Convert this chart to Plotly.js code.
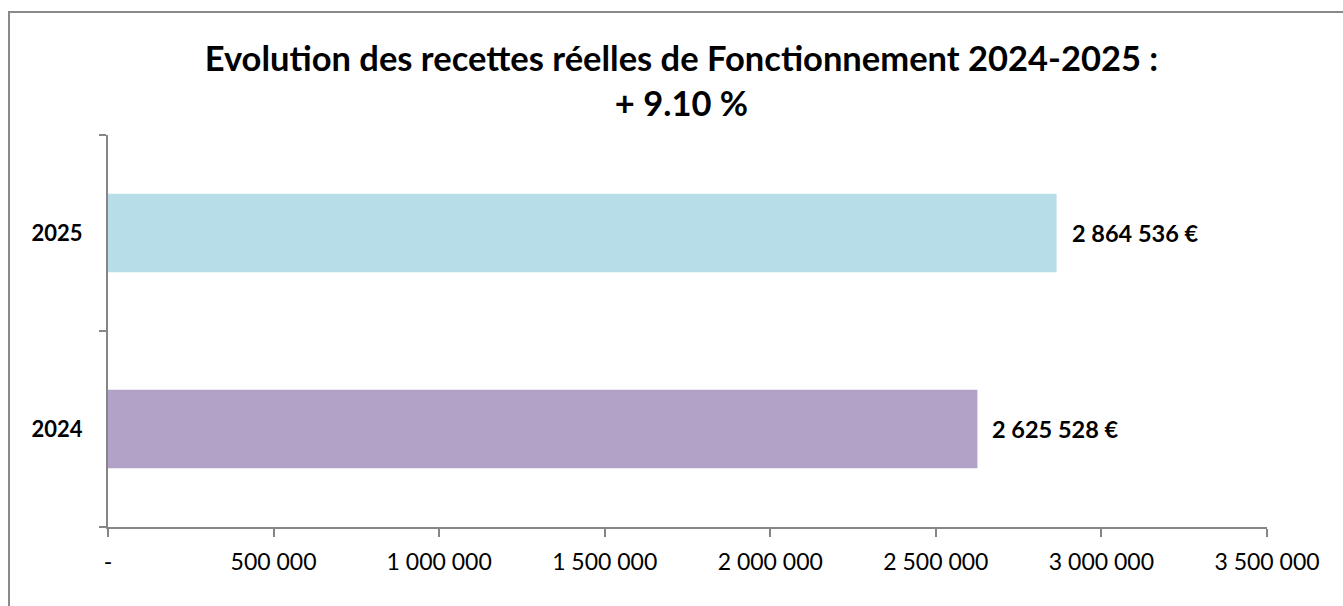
<!DOCTYPE html>
<html>
<head>
<meta charset="utf-8">
<script src="https://cdn.plot.ly/plotly-3.0.1.min.js"></script>
<style>
  html, body { margin: 0; padding: 0; background: #ffffff; }
  #chart { width: 1343px; height: 606px; }
</style>
</head>
<body>
<div id="chart"></div>
<script>
// ---- Data ----
const years = ["2024", "2025"];
const recettes = [2625528, 2864536];
const labels = ["2 625 528 €", "2 864 536 €"];
const barColors = ["#B3A2C7", "#B7DDE8"];
const xTickVals = [0, 500000, 1000000, 1500000, 2000000, 2500000, 3000000, 3500000];
const xTickText = ["-", "500 000", "1 000 000", "1 500 000", "2 000 000", "2 500 000", "3 000 000", "3 500 000"];
const titleLine1 = "Evolution des recettes réelles de Fonctionnement 2024-2025 :";
const titleLine2 = "+ 9.10 %";

const FONT = "Lato, 'Open Sans', sans-serif";
const axisColor = "#868686";

const trace = {
  type: "bar",
  orientation: "h",
  x: recettes,
  y: years,
  marker: { color: barColors, line: { width: 0 } },
  hoverinfo: "skip"
};

const annotations = years.map((yr, i) => ({
  x: recettes[i],
  y: i,
  xref: "x",
  yref: "y",
  text: "<b>" + labels[i] + "</b>",
  showarrow: false,
  xanchor: "left",
  yanchor: "middle",
  xshift: 13,
  font: { family: FONT, size: 23.5, color: "#000000" }
}));

const layout = {
  width: 1343,
  height: 606,
  paper_bgcolor: "#ffffff",
  plot_bgcolor: "#ffffff",
  margin: { l: 108, r: 76, t: 135, b: 79, pad: 0 },
  showlegend: false,
  bargap: 0.6,
  title: {
    text: "<b>" + titleLine1 + "<br>" + titleLine2 + "</b>",
    font: { family: FONT, size: 34.5, color: "#000000" },
    x: 0.4948,
    xref: "paper",
    xanchor: "center",
    y: 1 - 71 / 606,
    yref: "container",
    yanchor: "top",
    pad: { t: 0, b: 0 }
  },
  xaxis: {
    range: [0, 3500000],
    tickvals: xTickVals,
    ticktext: xTickText,
    showgrid: false,
    zeroline: false,
    showline: true,
    linecolor: axisColor,
    linewidth: 2,
    ticks: "outside",
    ticklen: 8,
    tickwidth: 2,
    tickcolor: axisColor,
    ticklabelstandoff: 5,
    tickfont: { family: FONT, size: 23, color: "#000000" },
    fixedrange: true
  },
  yaxis: {
    type: "category",
    categoryorder: "array",
    categoryarray: years,
    range: [-0.5, 1.5],
    showgrid: false,
    zeroline: false,
    showline: true,
    linecolor: axisColor,
    linewidth: 2,
    ticks: "outside",
    tickson: "boundaries",
    ticklen: 7,
    tickwidth: 2,
    tickcolor: axisColor,
    ticklabelstandoff: 19,
    tickfont: { family: FONT, size: 22, color: "#000000", weight: "bold" },
    fixedrange: true
  },
  annotations: annotations,
  shapes: [{
    type: "rect",
    xref: "paper",
    yref: "paper",
    x0: -0.0854,
    x1: 1.2,
    y0: -0.5,
    y1: 1.3138,
    line: { color: "#898989", width: 2 },
    fillcolor: "rgba(0,0,0,0)",
    layer: "below"
  }]
};

Plotly.newPlot("chart", [trace], layout, { displayModeBar: false, staticPlot: true });
</script>
</body>
</html>
